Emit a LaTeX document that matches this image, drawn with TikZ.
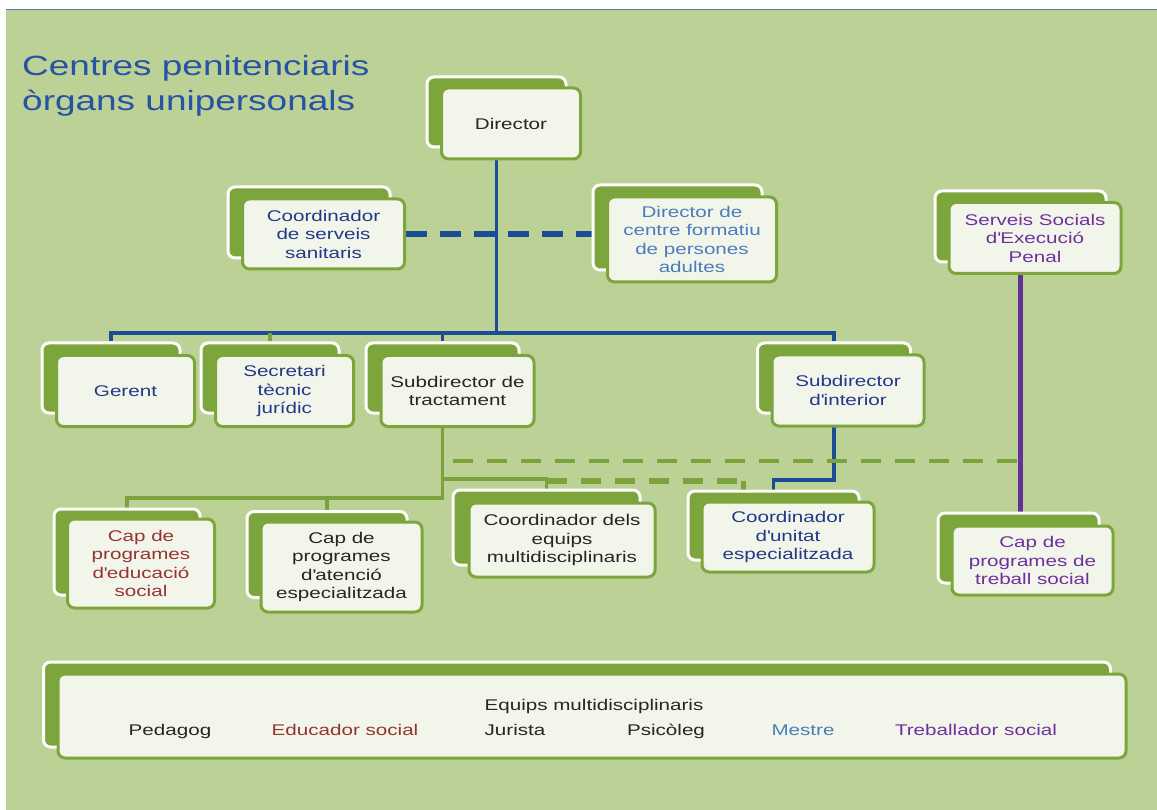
\documentclass[tikz,border=0pt]{standalone}
\usepackage{fontspec}
\setmainfont{Liberation Sans}[FakeStretch=1.33]
\usetikzlibrary{calc,positioning}

\definecolor{bggreen}{RGB}{188,209,149}
\definecolor{boxgreen}{RGB}{124,165,60}
\definecolor{boxcream}{RGB}{242,245,233}
\definecolor{lineblue}{RGB}{28,76,150}
\definecolor{linepurple}{RGB}{100,50,150}
\definecolor{linegreen}{RGB}{122,163,60}
\definecolor{titleblue}{RGB}{40,82,165}
\definecolor{topblue}{RGB}{90,125,185}
\definecolor{txtnavy}{RGB}{36,56,138}
\definecolor{txtsteel}{RGB}{74,126,187}
\definecolor{txtpurple}{RGB}{112,48,160}
\definecolor{txtred}{RGB}{150,52,52}
\definecolor{txtdark}{RGB}{38,38,38}

\newcommand\boxfont{\fontsize{15.5}{18.5}\selectfont}
\newcommand\titlefont{\fontsize{27.8}{35}\selectfont}
\newcommand\ap{\textquotesingle}

\pgfdeclarelayer{canvas}
\pgfdeclarelayer{wires}
\pgfsetlayers{canvas,wires,main}

\begin{document}
\begin{tikzpicture}[x=1pt,y=-1pt,
    back/.style={draw=white,line width=3pt,fill=boxgreen,rounded corners=7pt,inner sep=0pt},
    front/.style={draw=boxgreen,line width=3pt,fill=boxcream,rounded corners=7pt,inner sep=0pt,
                  align=center,font=\boxfont},
    sz/.style 2 args={minimum width=#1,minimum height=#2},
    blueline/.style={draw=lineblue,line width=3.2pt},
    purpleline/.style={draw=linepurple,line width=4.5pt},
    greenline/.style={draw=linegreen,line width=3.5pt},
    bluedash/.style={draw=lineblue,line width=5.5pt,dash pattern=on 21pt off 13pt},
    greendash/.style={draw=linegreen,line width=6pt,dash pattern=on 20pt off 14pt},
    greenthin/.style={draw=linegreen,line width=4pt,dash pattern=on 20pt off 14pt,dash phase=24pt},
    label/.style={font=\boxfont,anchor=base,inner sep=0pt}]

\useasboundingbox (0,0) rectangle (1157,810);

% title
\node[anchor=north west,inner sep=0pt,align=left,font=\titlefont,text=titleblue] (title) at (22,55)
  {Centres penitenciaris\\òrgans unipersonals};

% top level
\node[back,sz={139pt}{70pt}] (dir) at (496.5,112) {};
\node[front,sz={139pt}{71pt},text=txtdark] (dir-f) at ($(dir)+(14.5,11.5)$) {Director};

\node[back,sz={162pt}{71pt}] (css) at (309,222.5) {};
\node[front,sz={162pt}{70pt},text=txtnavy] (css-f) at ($(css)+(14.5,11.5)$) {Coordinador\\de serveis\\sanitaris};

\node[back,sz={169pt}{85pt}] (dcf) at (677.5,227.5) {};
\node[front,sz={169pt}{85pt},text=txtsteel] (dcf-f) at ($(dcf)+(14.5,12)$) {Director de\\centre formatiu\\de persones\\adultes};

\node[back,sz={171pt}{71pt}] (ssep) at (1020.5,226.5) {};
\node[front,sz={172pt}{71pt},text=txtpurple] (ssep-f) at ($(ssep)+(14.5,11.5)$) {Serveis Socials\\d\ap Execució\\Penal};

% second level
\node[back,sz={138pt}{70pt}] (ger) at (111,378) {};
\node[front,sz={138pt}{71pt},text=txtnavy] (ger-f) at ($(ger)+(14.5,13)$) {Gerent};

\node[back,sz={138pt}{70pt}] (sec) at (270,378) {};
\node[front,sz={138pt}{71pt},text=txtnavy] (sec-f) at ($(sec)+(14.5,13)$) {Secretari\\tècnic\\jurídic};

\node[back,sz={153pt}{70pt}] (sdt) at (442.5,378) {};
\node[front,sz={153pt}{71pt},text=txtdark] (sdt-f) at ($(sdt)+(15,13)$) {Subdirector de\\tractament};

\node[back,sz={153pt}{70pt}] (sdi) at (834,378) {};
\node[front,sz={152pt}{71pt},text=txtnavy] (sdi-f) at ($(sdi)+(14,12.5)$) {Subdirector\\d\ap interior};

% third level
\node[back,sz={146pt}{86pt}] (cpe) at (127,552) {};
\node[front,sz={147pt}{89pt},text=txtred] (cpe-f) at ($(cpe)+(14,11.5)$) {Cap de\\programes\\d\ap educació\\social};

\node[back,sz={160pt}{86pt}] (cpa) at (327,554.5) {};
\node[front,sz={161pt}{90pt},text=txtdark] (cpa-f) at ($(cpa)+(14.5,12.5)$) {Cap de\\programes\\d\ap atenció\\especialitzada};

\node[back,sz={187pt}{75pt}] (cem) at (546.5,527.5) {};
\node[front,sz={186pt}{74pt},text=txtdark] (cem-f) at ($(cem)+(15.5,12.5)$) {Coordinador dels\\equips\\multidisciplinaris};

\node[back,sz={171pt}{69pt}] (cue) at (773.5,525.5) {};
\node[front,sz={172pt}{70pt},text=txtnavy] (cue-f) at ($(cue)+(14.5,11.5)$) {Coordinador\\d\ap unitat\\especialitzada};

\node[back,sz={161pt}{70pt}] (cts) at (1018.5,548) {};
\node[front,sz={161pt}{69pt},text=txtpurple] (cts-f) at ($(cts)+(14,12.5)$) {Cap de\\programes de\\treball social};

% bottom panel
\node[back,sz={1067pt}{85pt}] (eqm) at (577,704.5) {};
\node[front,sz={1068pt}{84pt}] (eqm-f) at ($(eqm)+(15,11.5)$) {};
\node[label,text=txtdark] (eqm-t) at (594,710) {Equips multidisciplinaris};
\node[label,text=txtdark] (ped) at (170,735) {Pedagog};
\node[label,text=txtred] (edu) at (345,735) {Educador social};
\node[label,text=txtdark] (jur) at (515,735) {Jurista};
\node[label,text=txtdark] (psi) at (666,735) {Psicòleg};
\node[label,text=txtsteel] (mes) at (803,735) {Mestre};
\node[label,text=txtpurple] (tre) at (976,735) {Treballador social};

\coordinate (topbar) at (0,333);
\coordinate (sbar) at (0,461);
\coordinate (mbar) at (0,479);
\coordinate (ibar) at (0,480);
\coordinate (dbar) at (0,481);
\coordinate (tbar) at (0,498);
\coordinate (cuetick) at ($(cue.north)+(-30,0)$);

\begin{pgfonlayer}{canvas}
  \fill[bggreen] (6,10) rectangle (1157,810);
  \draw[line width=1.5pt,topblue] (6,9.5) -- (1157,9.5);
\end{pgfonlayer}

\begin{pgfonlayer}{wires}
  \draw[blueline] (dir) -- (dir |- topbar);
  \draw[blueline] (ger) |- (topbar -| sdi) -- (sdi);
  \draw[blueline] (sdt) -- (sdt |- topbar);
  \draw[greenline] (sec) -- (sec |- topbar);
  \draw[bluedash] (css-f.east) -- (css-f.east -| dcf-f.west);

  \draw[greenline] (sdt) |- (tbar -| cpe) -- (cpe);
  \draw[greenline] (cpa |- tbar) -- (cpa);
  \draw[greenline] (sdt |- mbar) -| (cem);
  \draw[greendash] (cem |- dbar) -- (dbar -| cuetick);
  \draw[greenline,line width=5pt] (dbar -| cuetick) -- (cuetick);
  \draw[blueline] (sdi) |- (ibar -| cue) -- (cue);
  \draw[purpleline] (ssep) -- (ssep |- cts);
  \draw[greenthin] (sdt |- sbar) -- (sbar -| ssep);
\end{pgfonlayer}
\end{tikzpicture}
\end{document}
